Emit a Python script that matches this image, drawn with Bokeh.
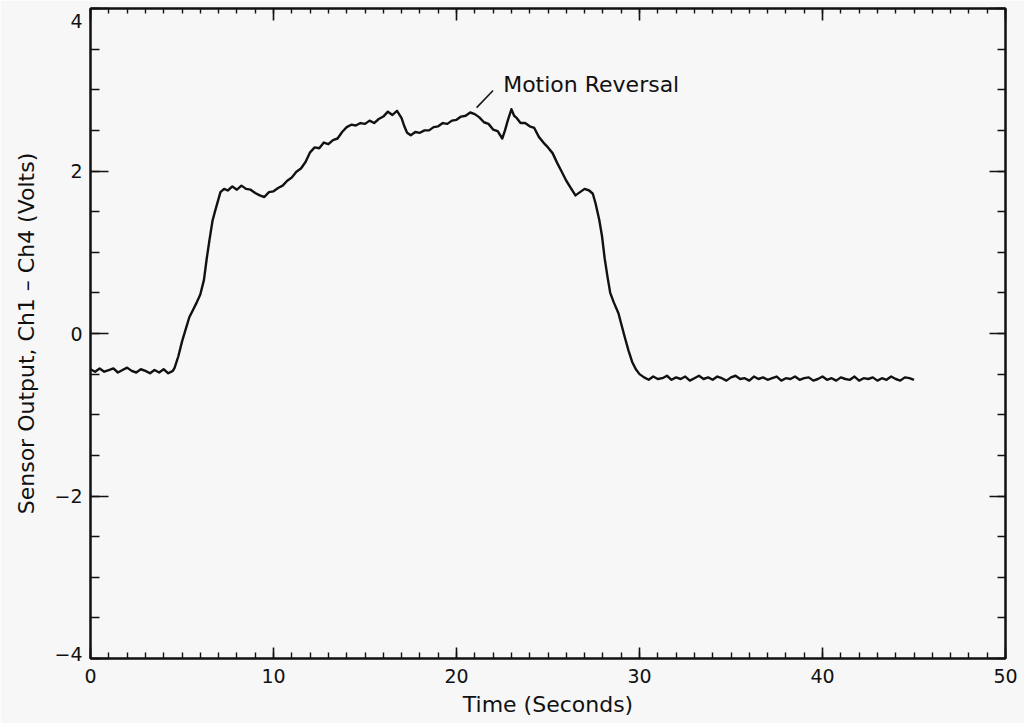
from bokeh.plotting import figure
from bokeh.models import (Range1d, LinearAxis, SingleIntervalTicker, Label,
                          ColumnDataSource, CustomLabelingPolicy)
from bokeh.embed import file_html
from bokeh.resources import INLINE

# Sensor trace: time (s) and summed output Ch1 - Ch4 (V)
time_s = [
    0.0, 0.25, 0.5, 0.75, 1.0, 1.25, 1.5, 1.75, 2.0, 2.25, 2.5, 2.75, 3.0, 3.25,
    3.5, 3.75, 4.0, 4.25, 4.5,
    4.6, 4.8, 5.0, 5.2, 5.4, 5.6, 5.8, 6.0, 6.2, 6.35, 6.5, 6.67, 6.8, 6.95, 7.1,
    7.3, 7.5, 7.75, 8.0, 8.25, 8.5, 8.75, 9.0, 9.25, 9.5, 9.75, 10.0, 10.25, 10.5,
    10.75, 11.0, 11.25, 11.5, 11.75, 12.0, 12.25, 12.5, 12.75, 13.0, 13.25, 13.5,
    13.75, 14.0, 14.25, 14.5, 14.75, 15.0, 15.25, 15.5, 15.75, 16.0, 16.25, 16.5,
    16.75, 17.0, 17.15, 17.3, 17.5, 17.75, 18.0, 18.25, 18.5, 18.75, 19.0, 19.25,
    19.5, 19.75, 20.0, 20.25, 20.5, 20.75, 21.0, 21.25, 21.5, 21.75, 22.0, 22.25,
    22.5, 22.65, 22.8, 23.0, 23.15, 23.3, 23.5, 23.75, 24.0, 24.25, 24.5, 24.75,
    25.0, 25.25, 25.5, 25.75, 26.0, 26.25, 26.5, 26.75, 27.0, 27.25, 27.45, 27.6,
    27.8, 27.95, 28.1, 28.25, 28.4, 28.6, 28.85, 29.0, 29.2, 29.4, 29.6, 29.8, 30.0,
    30.25, 30.5, 30.75, 31.0, 31.25, 31.5, 31.75, 32.0, 32.25, 32.5, 32.75, 33.0,
    33.25, 33.5, 33.75, 34.0, 34.25, 34.5, 34.75, 35.0, 35.25, 35.5, 35.75, 36.0,
    36.25, 36.5, 36.75, 37.0, 37.25, 37.5, 37.75, 38.0, 38.25, 38.5, 38.75, 39.0,
    39.25, 39.5, 39.75, 40.0, 40.25, 40.5, 40.75, 41.0, 41.25, 41.5, 41.75, 42.0,
    42.25, 42.5, 42.75, 43.0, 43.25, 43.5, 43.75, 44.0, 44.25, 44.5, 44.75, 45.0,
]
volts = [
    -0.44, -0.47, -0.43, -0.47, -0.45, -0.43, -0.48, -0.45, -0.42, -0.46, -0.48,
    -0.44, -0.46, -0.49, -0.45, -0.48, -0.44, -0.49, -0.46,
    -0.42, -0.28, -0.10, 0.05, 0.20, 0.29, 0.38, 0.48, 0.66, 0.92, 1.15, 1.39, 1.50,
    1.62, 1.74, 1.78, 1.76, 1.81, 1.77, 1.82, 1.78, 1.77, 1.73, 1.70, 1.68, 1.74,
    1.75, 1.79, 1.82, 1.88, 1.92, 1.99, 2.03, 2.11, 2.23, 2.29, 2.28, 2.35, 2.33,
    2.38, 2.40, 2.48, 2.54, 2.57, 2.56, 2.59, 2.58, 2.62, 2.59, 2.64, 2.67, 2.73,
    2.69, 2.74, 2.65, 2.55, 2.47, 2.44, 2.48, 2.47, 2.50, 2.50, 2.54, 2.55, 2.59,
    2.58, 2.62, 2.63, 2.67, 2.68, 2.72, 2.70, 2.66, 2.60, 2.58, 2.51, 2.49, 2.40,
    2.50, 2.62, 2.76, 2.68, 2.65, 2.59, 2.59, 2.55, 2.53, 2.42, 2.35, 2.29, 2.22,
    2.10, 1.99, 1.88, 1.79, 1.70, 1.74, 1.78, 1.76, 1.72, 1.60, 1.40, 1.20, 0.92,
    0.70, 0.50, 0.38, 0.25, 0.12, -0.05, -0.21, -0.35, -0.44, -0.50,
    -0.54, -0.57, -0.53, -0.56, -0.55, -0.52, -0.57, -0.54, -0.56, -0.53, -0.58,
    -0.55, -0.52, -0.56, -0.54, -0.57, -0.53, -0.55, -0.58, -0.54, -0.52, -0.56,
    -0.55, -0.58, -0.53, -0.56, -0.54, -0.57, -0.55, -0.53, -0.58, -0.55, -0.56,
    -0.53, -0.57, -0.55, -0.54, -0.58, -0.56, -0.53, -0.57, -0.55, -0.58, -0.54,
    -0.56, -0.57, -0.53, -0.58, -0.55, -0.56, -0.54, -0.58, -0.55, -0.57, -0.53,
    -0.56, -0.58, -0.54, -0.55, -0.57, -0.55, -0.54,
]

x_ticks_major = 10
y_ticks_major = 2
# the end labels sit just inside the frame: "4" below its tick, "-4" above it
y_tick_labels = {-4: "\u22124\n", -2: "\u22122", 0: "0", 2: "2", 4: "\n4"}

FONT = "DejaVu Sans"
BG = "#f7f7f7"
INK = "#111111"

p = figure(
    width=1024, height=723,
    x_range=Range1d(0, 50), y_range=Range1d(-4, 4),
    output_backend="svg", toolbar_location=None,
    background_fill_color=BG, border_fill_color=BG,
    min_border_left=90, min_border_right=19, min_border_top=8, min_border_bottom=65,
    x_axis_label="Time (Seconds)",
    y_axis_label="Sensor Output, Ch1 \u2013 Ch4 (Volts)",
)
p.grid.visible = False
p.outline_line_color = INK
p.outline_line_width = 2

src = ColumnDataSource(dict(t=time_s, v=volts))
p.line("t", "v", source=src, line_color=INK, line_width=2.4, line_join="round")

# annotation with its leader line
p.segment(x0=[21.1], y0=[2.78], x1=[22.0], y1=[2.99], line_color=INK, line_width=1.5)
p.add_layout(Label(x=22.55, y=3.06, text="Motion Reversal", text_font=FONT,
                   text_font_size="22px", text_color=INK, text_baseline="middle"))

# top and right axes carry ticks only
no_labels = CustomLabelingPolicy(code="return;")


def style(axis, ticker, major_in, minor_in, show_labels):
    axis.ticker = ticker
    axis.axis_line_color = INK
    axis.axis_line_width = 2
    axis.major_tick_line_color = INK
    axis.minor_tick_line_color = INK
    axis.major_tick_line_width = 1.6
    axis.minor_tick_line_width = 1.4
    axis.major_tick_in = major_in
    axis.major_tick_out = 0
    axis.minor_tick_in = minor_in
    axis.minor_tick_out = 0
    axis.major_label_text_font = FONT
    axis.major_label_text_color = INK
    axis.axis_label_text_font = FONT
    axis.axis_label_text_font_style = "normal"
    axis.axis_label_text_font_size = "22px"
    axis.axis_label_text_color = INK
    if show_labels:
        axis.major_label_text_font_size = "19px"
    else:
        axis.major_label_text_font_size = "0px"
        axis.major_label_standoff = 0
        axis.major_label_policy = no_labels


xt = SingleIntervalTicker(interval=x_ticks_major, num_minor_ticks=10)
yt = SingleIntervalTicker(interval=y_ticks_major, num_minor_ticks=4)

xb = p.xaxis[0]
style(xb, xt, 11, 6, True)
xb.major_label_standoff = 10
xb.axis_label_standoff = 6

yl = p.yaxis[0]
style(yl, yt, 18, 9, True)
yl.major_label_overrides = y_tick_labels
yl.major_label_text_line_height = 0.45
yl.major_label_standoff = 8
yl.axis_label_standoff = 12

xtop = LinearAxis()
style(xtop, SingleIntervalTicker(interval=x_ticks_major, num_minor_ticks=10), 12, 5, False)
p.add_layout(xtop, "above")

yright = LinearAxis()
style(yright, SingleIntervalTicker(interval=y_ticks_major, num_minor_ticks=4), 16, 8, False)
p.add_layout(yright, "right")

open("out.html", "w").write(file_html(p, INLINE))
